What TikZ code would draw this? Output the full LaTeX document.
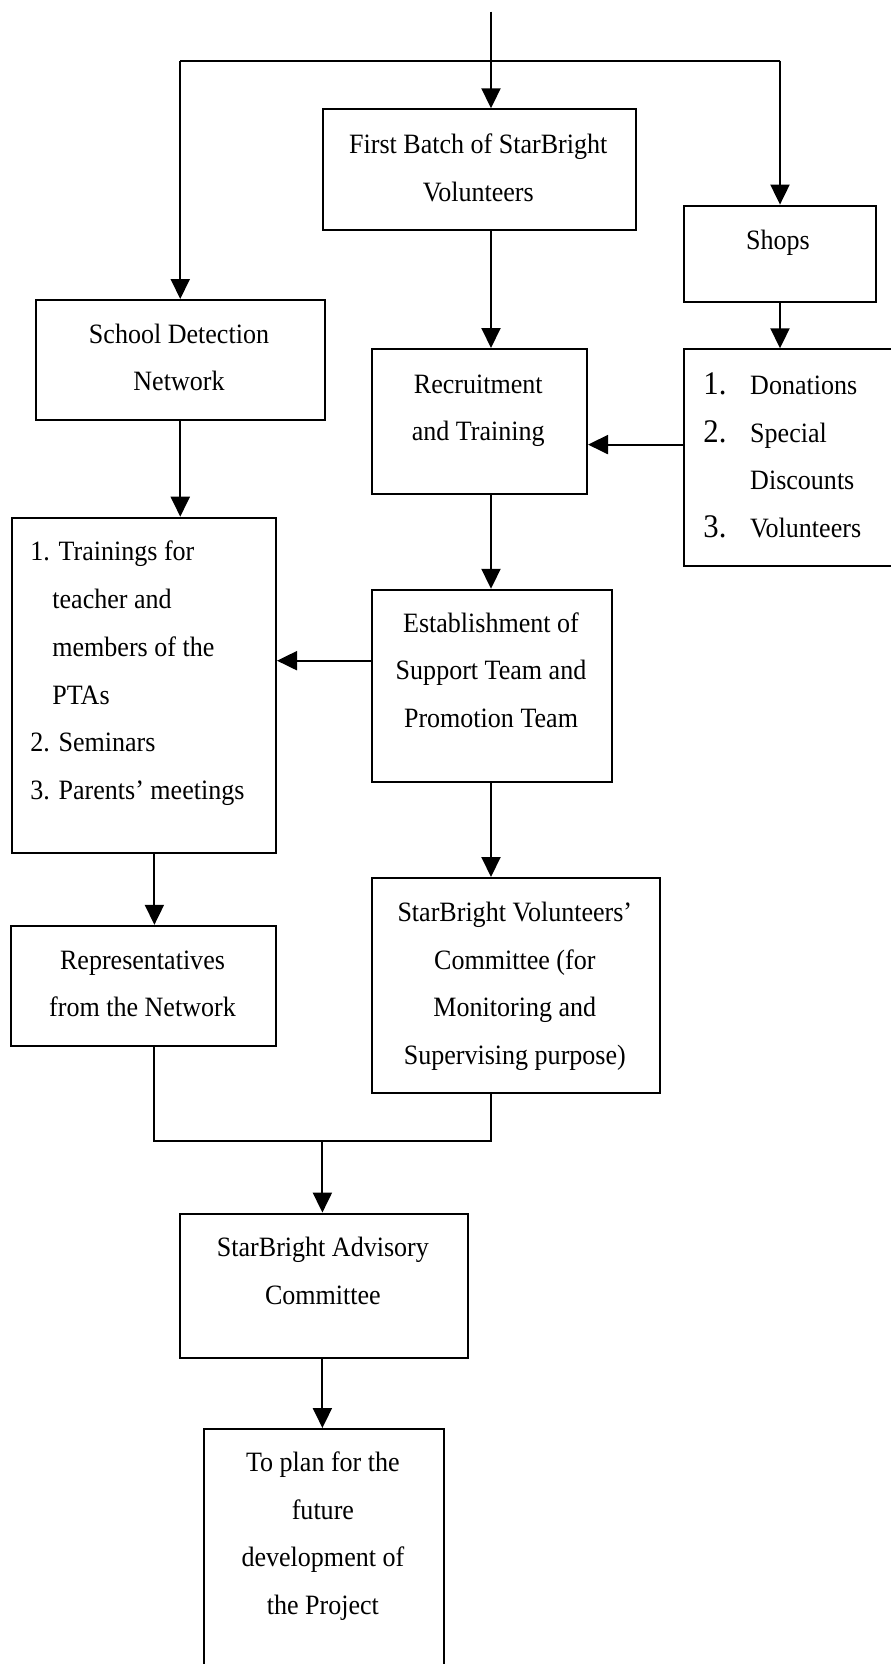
\documentclass[tikz,border=0pt]{standalone}
\usepackage{fontspec}
\setmainfont{Liberation Serif}[FakeStretch=0.93]
\usetikzlibrary{arrows.meta}
\newcommand\itemnum[1]{\makebox[23.4pt][l]{\fontsize{16.5}{23.9}\selectfont #1}}
\begin{document}
\begin{tikzpicture}[x=0.5pt,y=-0.5pt,
  box/.style={draw,line width=1pt,rectangle,inner sep=0pt,anchor=north west},
  txt/.style={inner sep=0pt,align=center,font=\fontsize{14}{23.9}\selectfont},
  ltxt/.style={inner sep=0pt,align=left,anchor=west,font=\fontsize{14}{23.9}\selectfont},
  arr/.style={line width=1pt,-{Triangle[length=10pt,width=9.5pt]}},
  ln/.style={line width=1pt}]
\useasboundingbox (0,0) rectangle (890,1664);

% boxes
\node[box,minimum width=156.25pt,minimum height=60.15pt] (first) at (322,108.3) {};
\node[box,minimum width=96pt,minimum height=48.2pt] (shops) at (683,204.6) {};
\node[box,minimum width=144.25pt,minimum height=60pt] (school) at (35,299) {};
\node[box,minimum width=107.7pt,minimum height=72.5pt] (recruit) at (370.6,348) {};
\node[box,minimum width=115pt,minimum height=108.35pt] (donate) at (682.7,348.3) {};
\node[box,minimum width=132.25pt,minimum height=167.65pt] (train) at (10.5,516.7) {};
\node[box,minimum width=120.05pt,minimum height=96.1pt] (establish) at (370.6,588.8) {};
\node[box,minimum width=132.25pt,minimum height=59.9pt] (reps) at (10.2,924.8) {};
\node[box,minimum width=144.2pt,minimum height=107.7pt] (volcomm) at (370.6,877) {};
\node[box,minimum width=144.1pt,minimum height=72.2pt] (advisory) at (178.8,1212.6) {};
\node[box,minimum width=120.3pt,minimum height=150pt] (final) at (202.6,1428) {};

% texts
\node[txt] (first-t) at (478.3,167.9) {\strut First Batch of StarBright\\Volunteers\strut};
\node[txt] (shops-t) at (778,240.4) {\strut Shops};
\node[txt] (school-t) at (179,357.4) {\strut School Detection\\Network\strut};
\node[txt] (recruit-t) at (478.3,407.4) {\strut Recruitment\\and Training\strut};
\node[ltxt] (donate-t) at (703,456.5) {\strut\itemnum{1.}Donations\\\itemnum{2.}Special\\\hspace*{23.4pt}Discounts\\\itemnum{3.}Volunteers\strut};
\node[ltxt] (train-t) at (30,670.6) {\strut 1. Trainings for\\\hspace*{11pt}teacher and\\\hspace*{11pt}members of the\\\hspace*{11pt}PTAs\\2. Seminars\\3. Parents’ meetings\strut};
\node[txt] (establish-t) at (491,670.4) {\strut Establishment of\\Support Team and\\Promotion Team\strut};
\node[txt] (reps-t) at (142.5,983.4) {\strut Representatives\\from the Network\strut};
\node[txt] (volcomm-t) at (514.8,983.4) {\strut StarBright Volunteers’\\Committee (for\\Monitoring and\\Supervising purpose)\strut};
\node[txt] (advisory-t) at (322.9,1271) {\strut StarBright Advisory\\Committee\strut};
\node[txt] (final-t) at (322.9,1533.4) {\strut To plan for the\\future\\development of\\the Project\strut};

% helper coordinates
\coordinate (start) at (491,11.7);
\coordinate (jn) at (491,60.7);
\coordinate (yd) at (0,444.6);
\coordinate (ye) at (0,660.7);
\coordinate (xl) at (154.4,0);
\coordinate (m) at (322.4,1140.6);

% connectors
\draw[arr] (start) -- (start |- first.north);
\draw[ln] (jn -| school.north) -- (jn -| shops.north);
\draw[arr] (jn -| school.north) -- (school.north);
\draw[arr] (jn -| shops.north) -- (shops.north);
\draw[arr] (first.south -| start) -- (recruit.north -| start);
\draw[arr] (shops.south) -- (shops.south |- donate.north);
\draw[arr] (donate.west |- yd) -- (recruit.east |- yd);
\draw[arr] (school.south) -- (train.north -| school.south);
\draw[arr] (recruit.south -| start) -- (establish.north -| start);
\draw[arr] (establish.west |- ye) -- (train.east |- ye);
\draw[arr] (train.south -| xl) -- (reps.north -| xl);
\draw[arr] (establish.south -| start) -- (volcomm.north -| start);
\draw[ln] (reps.south -| xl) |- (m) -| (volcomm.south -| start);
\draw[arr] (m) -- (advisory.north -| m);
\draw[arr] (advisory.south -| m) -- (final.north -| m);
\end{tikzpicture}
\end{document}
